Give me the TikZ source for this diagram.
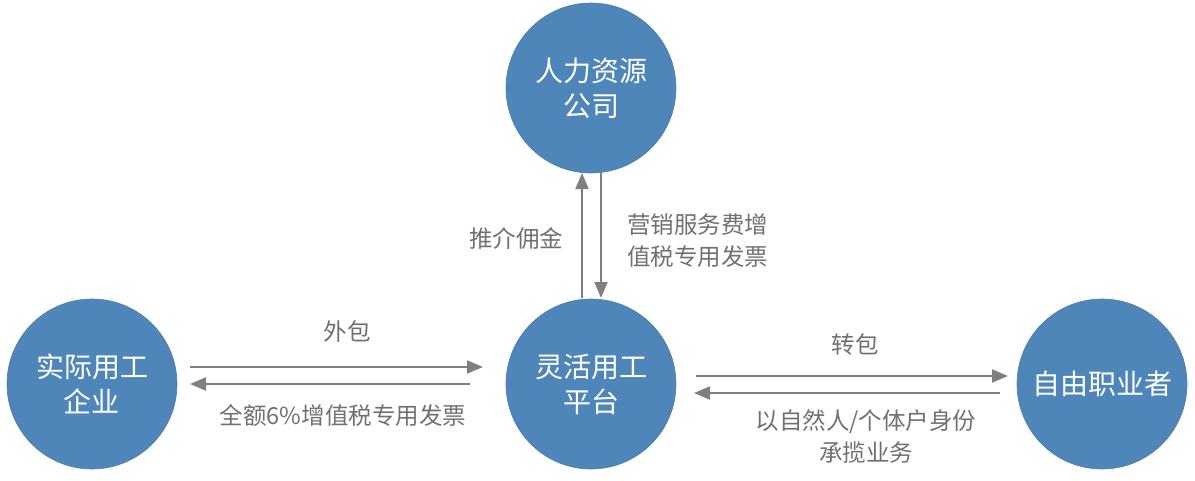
\documentclass[tikz,border=0pt]{standalone}
\usepackage{fontspec}
\setmainfont{Noto Sans CJK SC}
\usetikzlibrary{arrows.meta}
\definecolor{circfill}{HTML}{4E86B9}
\definecolor{circedge}{HTML}{4A7DAD}
\definecolor{arrgray}{HTML}{7F7F7F}
\definecolor{txtgray}{HTML}{707070}
\tikzset{
  actor/.style={circle, fill=circfill, draw=circedge, line width=0.6pt, minimum size=170pt, inner sep=0pt, text=white, align=center, font=\fontsize{28}{35}\selectfont},
  flow/.style={draw=arrgray, line width=2pt, -{Triangle[length=16pt,width=13pt]}},
  lab/.style={text=txtgray, align=center, font=\fontsize{23.5}{32}\selectfont, inner sep=0pt},
}
\begin{document}
\begin{tikzpicture}[x=1pt,y=-1pt]
\useasboundingbox (0,0) rectangle (1195,480);
\node[actor] (hr) at (591,88) {人力资源\\公司};
\node[actor] (ent) at (92,384) {实际用工\\企业};
\node[actor] (plat) at (591,384) {灵活用工\\平台};
\node[actor] (free) at (1102,384) {自由职业者};
% coordinates for connector ends
\coordinate (a1s) at (190,367); \coordinate (a1e) at (483,367);
\coordinate (a2s) at (470,384); \coordinate (a2e) at (190,384);
\coordinate (b1s) at (696,376); \coordinate (b1e) at (1008,376);
\coordinate (b2s) at (1000,393); \coordinate (b2e) at (694,393);
\coordinate (c1s) at (582,298); \coordinate (c1e) at (582,173);
\coordinate (c2s) at (601,170); \coordinate (c2e) at (601,298);
\draw[flow] (a1s) -- (a1e);
\draw[flow] (a2s) -- (a2e);
\draw[flow] (b1s) -- (b1e);
\draw[flow] (b2s) -- (b2e);
\draw[flow] (c1s) -- (c1e);
\draw[flow] (c2s) -- (c2e);
\node[lab] (l1) at (347,331) {外包};
\node[lab] (l2) at (343,415) {全额6\%增值税专用发票};
\node[lab] (l3) at (855,345) {转包};
\node[lab] (l4) at (866,436) {以自然人/个体户身份\\承揽业务};
\node[lab] (l5) at (516,238) {推介佣金};
\node[lab, align=left, anchor=west] (l6) at (627,241) {营销服务费增\\值税专用发票};
\end{tikzpicture}
\end{document}
